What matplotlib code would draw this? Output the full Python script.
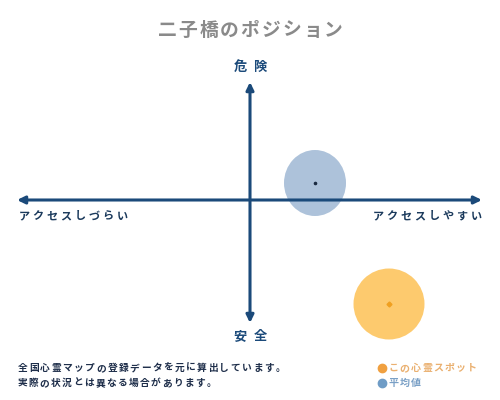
import matplotlib
matplotlib.use("Agg")
import matplotlib.pyplot as plt
from matplotlib.patches import Ellipse
from matplotlib.transforms import IdentityTransform

plt.rcParams['font.family'] = ['Noto Sans CJK JP', 'DejaVu Sans']

# ---- data (axis units: horizontal = access, vertical = danger) ----
series_names = ["この心霊スポット", "平均値"]
spot_xy = (139, -104)
avg_xy = (65, 17)
spot_size = (71, 71)
avg_size = (62, 66)
title = "二子橋のポジション"
label_top = "危険"
label_bottom = "安全"
label_left = "アクセスしづらい"
label_right = "アクセスしやすい"
notes = ["全国心霊マップの登録データを元に算出しています。",
         "実際の状況とは異なる場合があります。"]

W, H = 500, 400
fig = plt.figure(figsize=(5, 4), dpi=100)
ax = fig.add_axes([0, 0, 1, 1])
ax.set_xlim(-250, 250)
ax.set_ylim(-200, 200)
ax.axis('off')

navy = '#1b4a7a'

# circles
ax.add_patch(Ellipse(avg_xy, avg_size[0], avg_size[1], color='#adc2da', zorder=1, lw=0))
ax.add_patch(Ellipse(spot_xy, spot_size[0], spot_size[1], color='#fdca6e', zorder=1, lw=0))
ax.plot(*avg_xy, marker='o', ms=1.6, color='#1a2a40', zorder=4)
ax.plot(*spot_xy, marker='D', ms=2.5, color='#f0a020', zorder=4)

# axes arrows
ax.annotate('', xy=(-233, 0), xytext=(232, 0),
            arrowprops=dict(arrowstyle='<|-|>,head_length=0.45,head_width=0.22',
                            color=navy, lw=2.2, shrinkA=0, shrinkB=0), zorder=3)
ax.annotate('', xy=(0, 118), xytext=(0, -123),
            arrowprops=dict(arrowstyle='<|-|>,head_length=0.45,head_width=0.22',
                            color=navy, lw=2.2, shrinkA=0, shrinkB=0), zorder=3)


def spaced(x0, y, s, fs, pitch, color, ha='left', weight='bold'):
    n = len(s)
    total = n * pitch
    if ha == 'center':
        x0 = x0 - total / 2
    elif ha == 'right':
        x0 = x0 - total
    for i, ch in enumerate(s):
        fig.text(x0 + (i + 0.5) * pitch, H - y, ch, transform=IdentityTransform(),
                 fontsize=fs, color=color, ha='center', va='center',
                 fontweight=weight)


spaced(250, 30, title, 13.5, 20.7, '#8a8a8a', ha='center')
spaced(250, 67, label_top, 9.5, 20, navy, ha='center')
spaced(250, 336, label_bottom, 9.5, 20, navy, ha='center')
spaced(17, 216, label_left, 8, 14, '#1b3a5c')
spaced(483, 216, label_right, 8, 14, '#1b3a5c', ha='right')
spaced(17, 368, notes[0], 7, 11.2, '#1e2e4a')
spaced(17, 383, notes[1], 7, 11.1, '#1e2e4a')

# legend
ax.plot(382 - 250, 200 - 368, marker='o', ms=6, color='#f0a040')
ax.plot(382 - 250, 200 - 383, marker='o', ms=6, color='#6f9cc6')
spaced(388, 368, series_names[0], 7.2, 11.2, '#eab070')
spaced(388, 383, series_names[1], 7.2, 11.2, '#7aa0c6')

fig.savefig('out.png', dpi=100)
